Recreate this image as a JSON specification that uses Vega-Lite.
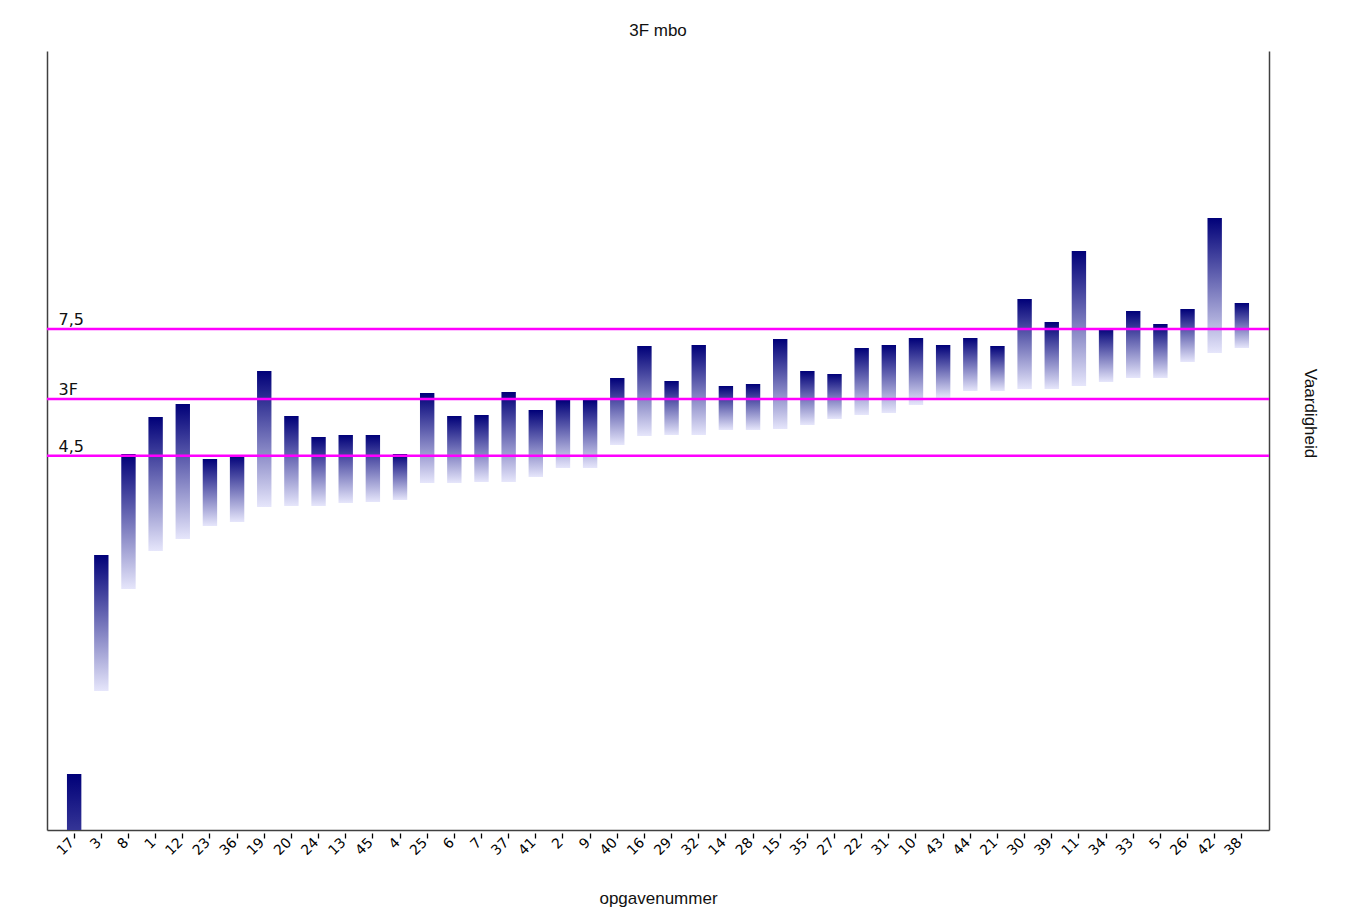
{
  "$schema": "https://vega.github.io/schema/vega-lite/v6.json",
  "width": 1222,
  "height": 779,
  "autosize": {"type": "none"},
  "padding": {"left": 47, "top": 51, "right": 96, "bottom": 94},
  "background": "white",
  "config": {
    "view": {"stroke": null},
    "font": "Liberation Sans"
  },
  "title": {
    "text": "3F mbo",
    "font": "Liberation Sans",
    "fontSize": 17,
    "fontWeight": "normal",
    "color": "#111",
    "anchor": "middle",
    "frame": "group",
    "baseline": "alphabetic",
    "offset": -2
  },
  "datasets": {
    "opgaven": [
      {"opgave": "17", "onder": -1.9, "boven": 0.56},
      {"opgave": "3", "onder": 1.39, "boven": 2.75},
      {"opgave": "8", "onder": 2.41, "boven": 3.76},
      {"opgave": "1", "onder": 2.79, "boven": 4.13},
      {"opgave": "12", "onder": 2.91, "boven": 4.26},
      {"opgave": "23", "onder": 3.04, "boven": 3.71},
      {"opgave": "36", "onder": 3.08, "boven": 3.75},
      {"opgave": "19", "onder": 3.23, "boven": 4.59},
      {"opgave": "20", "onder": 3.24, "boven": 4.14},
      {"opgave": "24", "onder": 3.24, "boven": 3.93},
      {"opgave": "13", "onder": 3.27, "boven": 3.95},
      {"opgave": "45", "onder": 3.28, "boven": 3.95},
      {"opgave": "4", "onder": 3.3, "boven": 3.76},
      {"opgave": "25", "onder": 3.47, "boven": 4.37},
      {"opgave": "6", "onder": 3.47, "boven": 4.14},
      {"opgave": "7", "onder": 3.48, "boven": 4.15},
      {"opgave": "37", "onder": 3.48, "boven": 4.38},
      {"opgave": "41", "onder": 3.53, "boven": 4.2},
      {"opgave": "2", "onder": 3.62, "boven": 4.3},
      {"opgave": "9", "onder": 3.62, "boven": 4.3},
      {"opgave": "40", "onder": 3.85, "boven": 4.52},
      {"opgave": "16", "onder": 3.94, "boven": 4.84},
      {"opgave": "29", "onder": 3.95, "boven": 4.49},
      {"opgave": "32", "onder": 3.95, "boven": 4.85},
      {"opgave": "14", "onder": 4.0, "boven": 4.44},
      {"opgave": "28", "onder": 4.0, "boven": 4.46},
      {"opgave": "15", "onder": 4.01, "boven": 4.91},
      {"opgave": "35", "onder": 4.05, "boven": 4.59},
      {"opgave": "27", "onder": 4.11, "boven": 4.56},
      {"opgave": "22", "onder": 4.15, "boven": 4.82},
      {"opgave": "31", "onder": 4.17, "boven": 4.85},
      {"opgave": "10", "onder": 4.25, "boven": 4.92},
      {"opgave": "43", "onder": 4.32, "boven": 4.85},
      {"opgave": "44", "onder": 4.39, "boven": 4.92},
      {"opgave": "21", "onder": 4.39, "boven": 4.84},
      {"opgave": "30", "onder": 4.41, "boven": 5.31},
      {"opgave": "39", "onder": 4.41, "boven": 5.08},
      {"opgave": "11", "onder": 4.44, "boven": 5.79},
      {"opgave": "34", "onder": 4.48, "boven": 5.02},
      {"opgave": "33", "onder": 4.52, "boven": 5.19},
      {"opgave": "5", "onder": 4.52, "boven": 5.06},
      {"opgave": "26", "onder": 4.68, "boven": 5.21},
      {"opgave": "42", "onder": 4.77, "boven": 6.12},
      {"opgave": "38", "onder": 4.82, "boven": 5.27}
    ],
    "grenzen": [
      {"label": "7,5", "waarde": 5.01},
      {"label": "3F", "waarde": 4.31},
      {"label": "4,5", "waarde": 3.743}
    ]
  },
  "resolve": {"axis": {"y": "independent"}},
  "layer": [
    {
      "data": {"name": "opgaven"},
      "mark": {
        "type": "bar",
        "clip": true,
        "fill": {
          "gradient": "linear",
          "x1": 0, "y1": 0, "x2": 0, "y2": 1,
          "stops": [
            {"offset": 0, "color": "#000078"},
            {"offset": 1, "color": "#e6e6fb"}
          ]
        }
      },
      "encoding": {
        "x": {
          "field": "opgave",
          "type": "nominal",
          "sort": null,
          "scale": {"paddingInner": 0.47, "paddingOuter": 0.735},
          "axis": {
            "title": "opgavenummer",
            "titleFont": "Liberation Sans",
            "titleFontSize": 17,
            "titleFontWeight": "normal",
            "titleColor": "#111",
            "titleY": 73,
            "titleBaseline": "alphabetic",
            "labelAngle": 315,
            "labelAlign": "right",
            "labelBaseline": "middle",
            "labelFont": "DejaVu Sans",
            "labelFontSize": 14,
            "labelColor": "#000",
            "labelPadding": 2,
            "labelOffset": -2,
            "domainColor": "#404040",
            "domainWidth": 1.5,
            "tickColor": "#000",
            "tickSize": 8,
            "tickDash": [0, 3, 5],
            "tickWidth": 1.3
          }
        },
        "y": {
          "field": "boven",
          "type": "quantitative",
          "scale": {"domain": [0, 7.79], "nice": false, "zero": false},
          "axis": {
            "orient": "left",
            "labels": false,
            "ticks": false,
            "grid": false,
            "title": null,
            "domainColor": "#404040",
            "domainWidth": 1.5
          }
        },
        "y2": {"field": "onder"}
      }
    },
    {
      "data": {"name": "grenzen"},
      "mark": {"type": "rule", "color": "#ff00ff", "strokeWidth": 2.6},
      "encoding": {
        "y": {
          "field": "waarde",
          "type": "quantitative",
          "axis": {
            "orient": "right",
            "labels": false,
            "ticks": false,
            "grid": false,
            "title": "Vaardigheid",
            "titleFont": "Liberation Sans",
            "titleFontSize": 17,
            "titleFontWeight": "normal",
            "titleColor": "#111",
            "titleAngle": 90,
            "titleX": 40,
            "titleY": 362,
            "titleBaseline": "middle",
            "titleAlign": "center",
            "domainColor": "#404040",
            "domainWidth": 1.5
          }
        }
      }
    },
    {
      "data": {"name": "grenzen"},
      "mark": {
        "type": "text",
        "align": "left",
        "baseline": "alphabetic",
        "font": "DejaVu Sans",
        "fontSize": 16,
        "color": "#111",
        "dx": -8.5,
        "dy": -4
      },
      "encoding": {
        "x": {"datum": "17", "bandPosition": 0},
        "y": {"field": "waarde", "type": "quantitative", "axis": null},
        "text": {"field": "label"}
      }
    }
  ]
}
